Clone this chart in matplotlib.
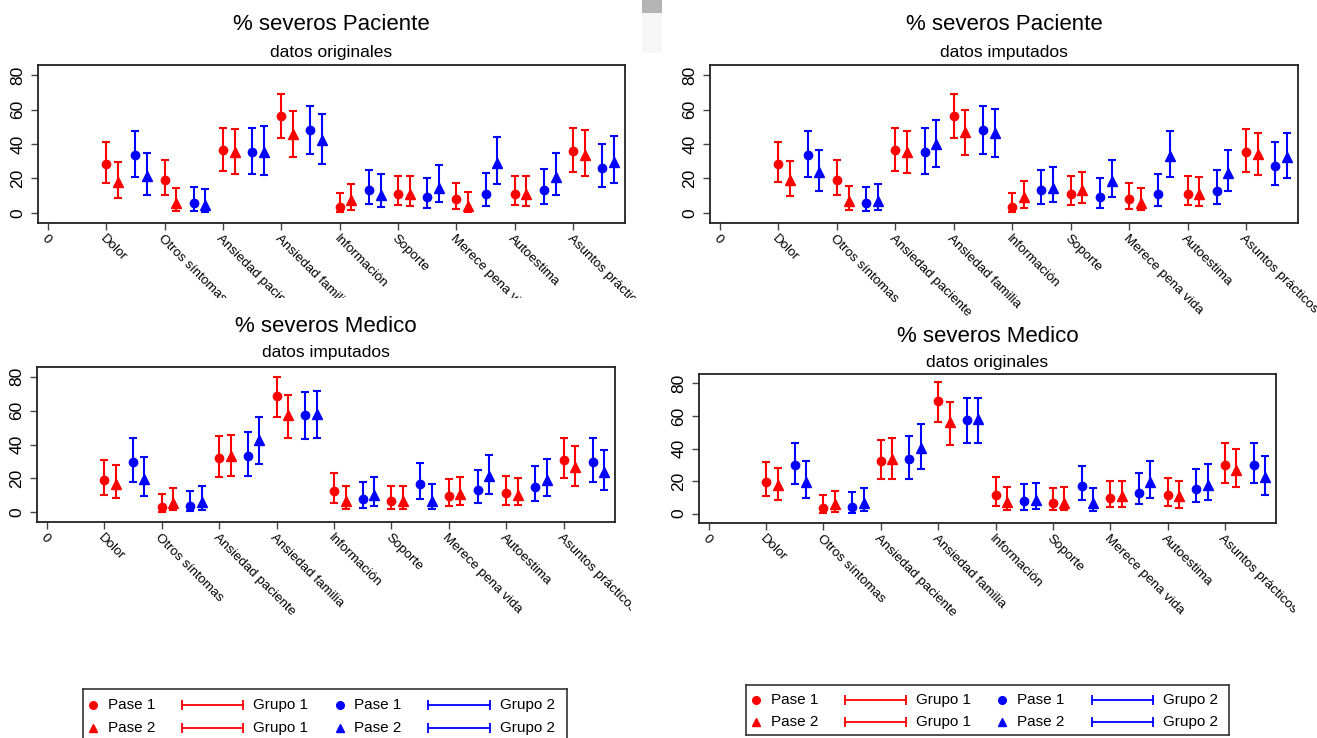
import numpy as np
import matplotlib
matplotlib.use('Agg')
import matplotlib.pyplot as plt
from matplotlib.patches import Rectangle
from matplotlib.transforms import Bbox, TransformedBbox

plt.rcParams['font.family'] = ['Liberation Sans', 'DejaVu Sans']

# Categories on the x axis (tick 0 has its own "0" label)
cats = ['Dolor', 'Otros síntomas', 'Ansiedad paciente', 'Ansiedad familia',
        'Información', 'Soporte', 'Merece pena vida', 'Autoestima', 'Asuntos prácticos']

# Each series: [estimate, lower, upper] per category
# g1 = Grupo 1 (red), g2 = Grupo 2 (blue); p1 = Pase 1 (circle), p2 = Pase 2 (triangle)

# Paciente, datos originales
pac_orig_g1p1 = [[28.6, 18.9, 36.3, 56.4, 3.5, 11.2, 7.9, 11.2, 35.9],
                 [17.6, 10.2, 24.5, 43.3, 0.4, 4.6, 2.5, 4.6, 24.0],
                 [41.2, 30.7, 49.5, 68.8, 11.6, 21.4, 17.4, 21.4, 49.3]]
pac_orig_g1p2 = [[18.0, 5.8, 35.4, 46.0, 7.3, 10.8, 3.9, 10.8, 33.8],
                 [8.5, 1.0, 22.8, 32.3, 1.9, 4.1, 0.4, 4.1, 21.6],
                 [29.4, 14.5, 48.7, 59.3, 16.8, 21.4, 12.0, 21.4, 47.9]]
pac_orig_g2p1 = [[33.4, 5.8, 35.4, 47.9, 13.1, 9.3, 11.2, 13.1, 26.3],
                 [20.9, 1.0, 22.6, 34.2, 5.4, 3.1, 4.3, 5.4, 15.3],
                 [47.3, 15.3, 49.3, 62.0, 24.7, 20.1, 23.0, 25.3, 40.2]]
pac_orig_g2p2 = [[21.4, 4.6, 35.4, 42.5, 10.6, 14.7, 29.2, 20.9, 29.6],
                 [10.4, 0.6, 22.0, 28.2, 3.5, 6.2, 17.0, 10.4, 17.4],
                 [35.0, 14.1, 50.4, 57.6, 22.4, 27.6, 44.1, 34.8, 44.8]]

# Paciente, datos imputados
pac_imp_g1p1 = [[28.6, 18.9, 36.3, 56.2, 3.5, 11.2, 7.9, 11.2, 35.4],
                [17.8, 10.2, 24.5, 43.3, 0.4, 4.6, 2.5, 4.6, 23.6],
                [41.2, 30.7, 49.5, 68.8, 11.6, 21.4, 17.4, 21.4, 48.7]]
pac_imp_g1p2 = [[18.9, 7.1, 35.4, 46.8, 9.3, 13.1, 6.0, 10.8, 34.0],
                [9.7, 1.9, 23.2, 33.8, 2.9, 6.0, 1.5, 4.3, 22.2],
                [30.1, 15.7, 47.7, 59.7, 18.6, 23.8, 14.5, 20.9, 46.6]]
pac_imp_g2p1 = [[33.4, 5.8, 35.4, 47.9, 13.1, 9.3, 11.2, 12.8, 27.2],
                [20.9, 1.0, 22.6, 34.2, 5.4, 3.1, 4.3, 5.4, 16.2],
                [47.3, 15.3, 49.3, 62.0, 24.7, 20.1, 22.6, 24.7, 41.0]]
pac_imp_g2p2 = [[23.8, 6.8, 40.2, 46.4, 14.5, 18.4, 33.2, 23.4, 32.5],
                [12.8, 1.7, 26.9, 32.3, 6.4, 9.1, 20.7, 12.8, 20.3],
                [36.7, 16.8, 54.1, 60.3, 26.9, 30.7, 47.3, 36.7, 46.6]]

# Medico, datos imputados
med_imp_g1p1 = [[19.1, 3.1, 32.0, 68.8, 12.6, 6.7, 9.8, 11.2, 30.7],
                [10.4, 0.4, 20.8, 56.0, 5.5, 1.8, 3.9, 4.3, 20.0],
                [31.1, 11.0, 45.0, 80.0, 23.2, 15.5, 19.7, 21.6, 43.8]]
med_imp_g1p2 = [[16.9, 5.7, 33.2, 57.2, 6.7, 6.7, 11.0, 10.4, 26.7],
                [8.5, 1.4, 21.4, 43.8, 1.8, 1.8, 4.3, 4.1, 15.7],
                [27.9, 14.2, 45.6, 69.2, 15.5, 15.5, 20.8, 20.4, 38.9]]
med_imp_g2p1 = [[29.7, 3.7, 33.4, 57.2, 7.7, 16.7, 13.0, 14.7, 29.5],
                [17.9, 0.6, 21.2, 43.2, 2.2, 7.9, 5.5, 6.7, 17.9],
                [43.8, 12.8, 47.4, 71.2, 17.9, 29.3, 25.0, 27.3, 43.8]]
med_imp_g2p2 = [[19.9, 6.1, 42.5, 57.8, 10.0, 6.7, 21.2, 18.9, 23.8],
                [9.8, 1.2, 28.7, 43.6, 3.5, 1.6, 11.0, 9.4, 13.0],
                [32.4, 15.5, 56.4, 71.4, 20.8, 16.5, 34.0, 31.4, 36.8]]

# Medico, datos originales
med_orig_g1p1 = [[19.7, 3.5, 32.4, 69.5, 11.7, 6.8, 9.8, 11.5, 29.9],
                 [10.7, 0.4, 21.1, 56.2, 4.7, 2.1, 3.9, 4.9, 18.7],
                 [31.4, 11.5, 45.5, 80.6, 22.6, 16.0, 19.9, 21.9, 43.3]]
med_orig_g1p2 = [[17.4, 5.7, 33.4, 56.2, 7.2, 6.8, 10.5, 10.5, 26.9],
                 [8.2, 1.2, 21.5, 42.3, 2.1, 2.1, 3.9, 3.7, 16.2],
                 [28.1, 13.9, 46.2, 68.7, 16.2, 16.4, 20.3, 20.3, 39.6]]
med_orig_g2p1 = [[29.7, 3.9, 33.6, 57.4, 7.6, 17.0, 12.9, 15.2, 29.7],
                 [18.3, 0.6, 21.3, 43.3, 2.3, 8.2, 5.7, 7.0, 18.7],
                 [43.5, 13.1, 47.6, 70.8, 18.3, 29.3, 25.0, 27.3, 43.5]]
med_orig_g2p2 = [[19.7, 6.4, 40.6, 58.1, 8.2, 6.4, 19.5, 17.6, 22.2],
                 [9.6, 1.4, 27.1, 43.1, 2.5, 1.4, 9.8, 8.4, 11.5],
                 [32.4, 16.0, 55.0, 71.2, 18.9, 16.0, 32.4, 30.6, 35.3]]

W, H = 1317, 738
fig = plt.figure(figsize=(W / 100, H / 100), dpi=100)

RED = '#ff0000'
BLUE = '#0000ff'

def px_axes(x0, y0, x1, y1):
    # axes from pixel box (top-left origin)
    return fig.add_axes([x0 / W, 1 - y1 / H, (x1 - x0) / W, (y1 - y0) / H])

# (box, title, subtitle, title y, subtitle y, label clip (right, bottom), series)
panels = [
    ((38, 65, 625, 223), '% severos Paciente', 'datos originales', 25, 52, (642, 298),
     [pac_orig_g1p1, pac_orig_g1p2, pac_orig_g2p1, pac_orig_g2p2]),
    ((710, 65, 1298, 223), '% severos Paciente', 'datos imputados', 25, 52, (W, H),
     [pac_imp_g1p1, pac_imp_g1p2, pac_imp_g2p1, pac_imp_g2p2]),
    ((37, 367, 615, 522), '% severos Medico', 'datos imputados', 327, 353, (631, H),
     [med_imp_g1p1, med_imp_g1p2, med_imp_g2p1, med_imp_g2p2]),
    ((699, 374, 1276, 523), '% severos Medico', 'datos originales', 337, 362, (1295, H),
     [med_orig_g1p1, med_orig_g1p2, med_orig_g2p1, med_orig_g2p2]),
]

offsets = [0.0, 0.2, 0.5, 0.7]
colors = [RED, RED, BLUE, BLUE]
markers = ['o', '^', 'o', '^']
xpos = np.arange(1, len(cats) + 1)

for box, title, sub, ty, sy, clip_ext, series in panels:
    ax = px_axes(*box)
    for s, off, c, m in zip(series, offsets, colors, markers):
        est, lo, hi = (np.array(v) for v in s)
        ax.errorbar(xpos + off, est, yerr=[est - lo, hi - est], fmt=m, color=c,
                    ms=6 if m == 'o' else 7, capsize=3, elinewidth=1.5,
                    capthick=1.5, mec=c, mfc=c)
    ax.set_xlim(-0.17, 9.89)
    ax.set_ylim(-5.8, 85.8)
    ax.set_yticks([0, 20, 40, 60, 80])
    ax.set_yticklabels(['0', '20', '40', '60', '80'], rotation=90, va='center', fontsize=12.5)
    ax.set_xticks(np.arange(0, len(cats) + 1))
    ax.set_xticklabels(['0'] + cats, rotation=-45, ha='left', va='top',
                       rotation_mode='anchor', fontsize=9.6)
    ax.tick_params(axis='y', direction='out', length=5, width=1, color='#444444', pad=4)
    ax.tick_params(axis='x', direction='out', length=5, width=1, color='#444444', pad=2)
    for sp in ax.spines.values():
        sp.set_linewidth(1.3)
        sp.set_color('#222222')
    clip = TransformedBbox(Bbox.from_extents(0, 1 - clip_ext[1] / H, clip_ext[0] / W, 1),
                           fig.transFigure)
    for lab in ax.get_xticklabels():
        lab.set_clip_box(clip)
        lab.set_clip_on(True)
    cx = (box[0] + box[2]) / 2
    fig.text(cx / W, 1 - ty / H, title, ha='center', va='center', fontsize=16)
    fig.text(cx / W, 1 - sy / H, sub, ha='center', va='center', fontsize=12.5)

# Legends, laid out in pixel coordinates
def draw_legend(x0, y0, x1, y1, cols, rows):
    lg = px_axes(x0, y0, x1, y1)
    lg.set_xlim(x0, x1)
    lg.set_ylim(y1, y0)
    lg.set_xticks([])
    lg.set_yticks([])
    for sp in lg.spines.values():
        sp.set_linewidth(1.2)
        sp.set_color('#333333')
    mx, tx, l0, l1, gx, bmx, btx, bl0, bl1, bgx = cols
    for r, (yy, m, pase) in enumerate(zip(rows, ['o', '^'], ['Pase 1', 'Pase 2'])):
        lg.plot([mx], [yy], m, color=RED, ms=5.5, clip_on=False)
        lg.text(tx, yy, pase, va='center', fontsize=11)
        lg.plot([l0, l1], [yy, yy], color=RED, lw=1.3, marker='|', ms=7, mew=1.3)
        lg.text(gx, yy, 'Grupo 1', va='center', fontsize=11)
        lg.plot([bmx], [yy], m, color=BLUE, ms=5.5)
        lg.text(btx, yy, pase, va='center', fontsize=11)
        lg.plot([bl0, bl1], [yy, yy], color=BLUE, lw=1.3, marker='|', ms=7, mew=1.3)
        lg.text(bgx, yy, 'Grupo 2', va='center', fontsize=11)

draw_legend(83, 689, 567, 748, (93, 108, 182, 243, 253, 340, 354, 428, 490, 500), (705, 728))
draw_legend(746, 685, 1229, 735, (756, 771, 845, 906, 916, 1002, 1017, 1092, 1153, 1163), (700, 722))

# Gray strip artifact at the top of the image
fig.patches.append(Rectangle((642 / W, 1 - 13 / H), 20 / W, 13 / H, transform=fig.transFigure,
                             facecolor='#b4b4b4', edgecolor='none'))
fig.patches.append(Rectangle((642 / W, 1 - 53 / H), 20 / W, 40 / H, transform=fig.transFigure,
                             facecolor='#f6f6f6', edgecolor='none'))

fig.savefig('out.png', dpi=100)
